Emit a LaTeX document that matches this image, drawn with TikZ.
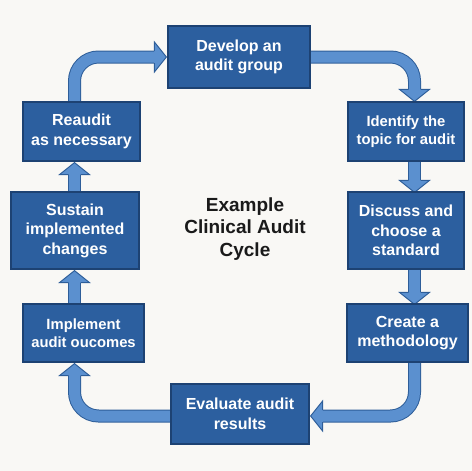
\documentclass[tikz,border=0pt]{standalone}
\usepackage{fontspec}
\setmainfont{Liberation Sans}
\usetikzlibrary{calc}
\definecolor{bg}{HTML}{F9F8F5}
\definecolor{boxfill}{HTML}{2C5F9F}
\definecolor{boxline}{HTML}{1D4273}
\definecolor{arrfill}{HTML}{5B90CF}
\definecolor{arrline}{HTML}{2E5E99}
\definecolor{titlecol}{HTML}{1A1A1A}
\pgfdeclarelayer{bgl}
\pgfdeclarelayer{arr}
\pgfsetlayers{bgl,arr,main}
\tikzset{
  stepbox/.style={draw=boxline, line width=1.2pt, fill=boxfill, text=white,
    font=\bfseries\fontsize{16}{19.5}\selectfont, align=center, inner sep=0pt},
  smalltext/.style={font=\bfseries\fontsize{14.8}{17.6}\selectfont},
  shaft/.style={draw=arrline, line width=1pt, double=arrfill, double distance=11pt, rounded corners=24pt},
  fathead/.pic={
    \fill[arrfill] (-5.8,-0.3) -- (-15,0) -- (0,12) -- (15,0) -- (5.8,-0.3) -- cycle;
    \draw[arrline, line width=1pt, line join=miter] (-6,0) -- (-15,0) -- (0,12) -- (15,0) -- (6,0);
  }
}
\begin{document}
\begin{tikzpicture}[x=1pt,y=-1pt]
\begin{pgfonlayer}{bgl}
\fill[bg] (0,0) rectangle (472,471);
\end{pgfonlayer}
\useasboundingbox (0,0) rectangle (472,471);

\node[stepbox, minimum width=142pt, minimum height=62pt] (dev) at (239,57) {Develop an\\audit group};
\node[stepbox, smalltext, minimum width=116pt, minimum height=59pt] (ident) at (406,131.5) {Identify the\\topic for audit};
\node[stepbox, minimum width=116pt, minimum height=77pt] (disc) at (406,230.5) {Discuss and\\choose a\\standard};
\node[stepbox, minimum width=121pt, minimum height=58pt] (create) at (407.5,333) {Create a\\methodology};
\node[stepbox, minimum width=138pt, minimum height=60pt] (eval) at (240,414) {Evaluate audit\\results};
\node[stepbox, smalltext, minimum width=121pt, minimum height=58pt] (impl) at (83.5,333) {Implement\\audit oucomes};
\node[stepbox, minimum width=128pt, minimum height=77pt] (sust) at (75,230.5) {Sustain\\implemented\\changes};
\node[stepbox, minimum width=117pt, minimum height=59pt] (reaud) at (81.5,131.5) {Reaudit\\as necessary};

\node[text=titlecol, align=center, font=\bfseries\fontsize{19}{22.5}\selectfont] (title) at (245,229) {Example\\Clinical Audit\\Cycle};

\coordinate (colL) at (74.5,0);
\coordinate (colR) at (414.5,0);

\begin{pgfonlayer}{arr}
% Reaudit -> Develop
\coordinate (h1) at ($(dev.west)+(-13,0)$);
\draw[shaft] (reaud.north -| colL) -- (colL |- dev.west) -- (h1);
\path (h1) pic[rotate=90] {fathead};
% Develop -> Identify
\coordinate (h2) at ($(ident.north -| colR)+(0,-12)$);
\draw[shaft] (dev.east) -- (colR |- dev.east) -- (h2);
\path (h2) pic {fathead};
% Identify -> Discuss
\coordinate (h3) at ($(disc.north -| colR)+(0,-11)$);
\draw[shaft] (ident.south -| colR) -- (h3);
\path (h3) pic {fathead};
% Discuss -> Create
\coordinate (h4) at ($(create.north -| colR)+(0,-11)$);
\draw[shaft] (disc.south -| colR) -- (h4);
\path (h4) pic {fathead};
% Create -> Evaluate
\coordinate (h5) at ($(eval.east)+(13,2)$);
\draw[shaft] (create.south -| colR) -- (colR |- h5) -- (h5);
\path (h5) pic[rotate=-90] {fathead};
% Evaluate -> Implement
\coordinate (h6) at ($(impl.south -| colL)+(0,13)$);
\coordinate (e6) at ($(eval.west)+(0,2)$);
\draw[shaft] (e6) -- (colL |- e6) -- (h6);
\path (h6) pic[rotate=180] {fathead};
% Implement -> Sustain
\coordinate (h7) at ($(sust.south -| colL)+(0,13)$);
\draw[shaft] (impl.north -| colL) -- (h7);
\path (h7) pic[rotate=180] {fathead};
% Sustain -> Reaudit
\coordinate (h8) at ($(reaud.south -| colL)+(0,13)$);
\draw[shaft] (sust.north -| colL) -- (h8);
\path (h8) pic[rotate=180] {fathead};
\end{pgfonlayer}
\end{tikzpicture}
\end{document}
